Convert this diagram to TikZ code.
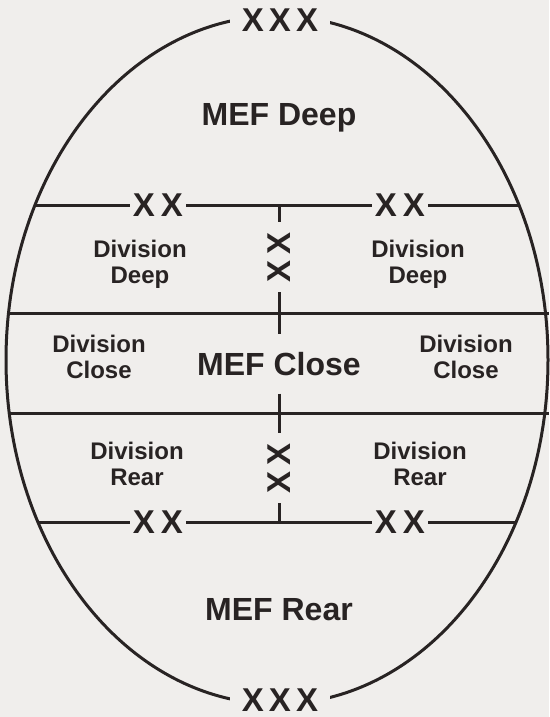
\documentclass[tikz,border=0pt]{standalone}
\usepackage{fontspec}
\setmainfont{Liberation Sans}
\usetikzlibrary{shapes.geometric}
\definecolor{bg}{RGB}{240,238,236}
\definecolor{ink}{RGB}{40,35,35}
\begin{document}
\begin{tikzpicture}[x=1pt,y=-1pt,
  ring/.style={draw=ink, line width=3pt, ellipse, minimum width=542pt, minimum height=688pt, inner sep=0pt},
  sepline/.style={draw=ink, line width=3pt},
  echelon/.style={text=ink, font=\bfseries\fontsize{33}{33}\selectfont, inner xsep=3pt, inner ysep=2pt},
  topechelon/.style={echelon, fill=bg, inner xsep=12pt},
  vechelon/.style={echelon, rotate=90, inner xsep=10pt},
  divlbl/.style={text=ink, align=center, anchor=north, inner sep=0pt, font=\bfseries\fontsize{24}{26}\selectfont},
  meflbl/.style={text=ink, anchor=base, font=\bfseries\fontsize{32}{32}\selectfont},
  closelbl/.style={meflbl, inner xsep=2pt, inner ysep=18pt}
]
\fill[bg] (0,0) rectangle (549,717);
\useasboundingbox (0,0) rectangle (549,717);

% outer ellipse
\node[ring] (ring) at (277,360) {};

% line end points on the ellipse / picture edge
\coordinate (l1) at (35,205);  \coordinate (r1) at (519,205);
\coordinate (l2) at (8.5,313); \coordinate (r2) at (549,313);
\coordinate (l3) at (9.2,413); \coordinate (r3) at (549,413);
\coordinate (l4) at (38,522);  \coordinate (r4) at (516,522);
\coordinate (vt) at (279,205); \coordinate (vb) at (279,522);

% echelon marks
\node[topechelon] (xxxt) at (280,20) {X\kern5pt X\kern5pt X};
\node[topechelon] (xxxb) at (280,700) {X\kern5pt X\kern5pt X};
\node[echelon] (xl1) at (158,205) {X\kern6pt X};
\node[echelon] (xr1) at (400,205) {X\kern6pt X};
\node[echelon] (xl4) at (158,522) {X\kern6pt X};
\node[echelon] (xr4) at (400,522) {X\kern6pt X};
\node[vechelon] (xv1) at (279,257) {X\kern6pt X};
\node[vechelon] (xv2) at (279,468) {X\kern6pt X};

% MEF labels
\node[meflbl] (mefdeep) at (279,125) {MEF Deep};
\node[closelbl] (mefclose) at (279,375) {MEF Close};
\node[meflbl] (mefrear) at (279,620) {MEF Rear};

% division labels
\node[divlbl] (ddl) at (140,240) {Division\\Deep};
\node[divlbl] (ddr) at (418,240) {Division\\Deep};
\node[divlbl] (dcl) at (99,335) {Division\\Close};
\node[divlbl] (dcr) at (466,335) {Division\\Close};
\node[divlbl] (drl) at (137,442) {Division\\Rear};
\node[divlbl] (drr) at (420,442) {Division\\Rear};

% boundary lines
\draw[sepline] (l1) -- (xl1) -- (xr1) -- (r1);
\draw[sepline] (l2) -- (r2);
\draw[sepline] (l3) -- (r3);
\draw[sepline] (l4) -- (xl4) -- (xr4) -- (r4);
\draw[sepline] (vt) -- (xv1) -- (mefclose) -- (xv2) -- (vb);
\end{tikzpicture}
\end{document}
